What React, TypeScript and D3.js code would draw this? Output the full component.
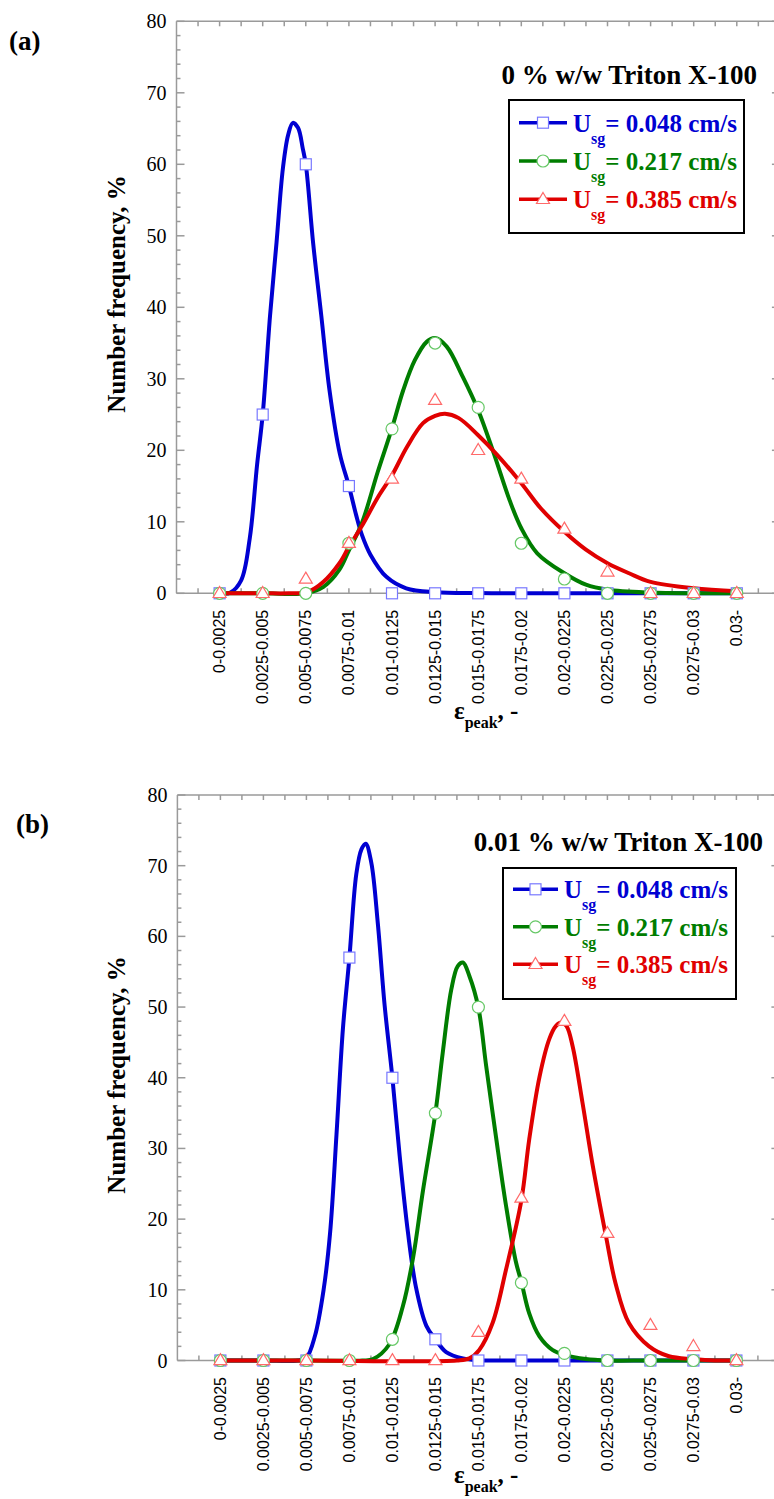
import React from "react";
import * as d3 from "d3";

// size classes of the peak strain, one per category on the x axis
const catLabels = [
  "0-0.0025", "0.0025-0.005", "0.005-0.0075", "0.0075-0.01", "0.01-0.0125",
  "0.0125-0.015", "0.015-0.0175", "0.0175-0.02", "0.02-0.0225", "0.0225-0.025",
  "0.025-0.0275", "0.0275-0.03", "0.03-",
];
const yTicks = [0, 10, 20, 30, 40, 50, 60, 70, 80];

// measured points, panel (a) 0 % Triton
const a048 = [0, 25, 60, 15, 0, 0, 0, 0, 0, 0, 0, 0, 0];
const a217 = [0, 0, 0, 7, 23, 35, 26, 7, 2, 0, 0, 0, 0];
const a385 = [0, 0, 2, 7, 16, 27, 20, 16, 9, 3, 0, 0, 0];

// measured points, panel (b) 0.01 % Triton
const b048 = [0, 0, 0, 57, 40, 3, 0, 0, 0, 0, 0, 0, 0];
const b217 = [0, 0, 0, 0, 3, 35, 50, 11, 1, 0, 0, 0, 0];
const b385 = [0, 0, 0, 0, 0, 0, 4, 23, 48, 18, 5, 2, 0];

// fitted curves: [category index, frequency]
const aFit048 = [[0, 0], [0.25, 0.1], [0.5, 1.8], [0.7, 7.7], [0.87, 18], [1, 25], [1.17, 38.8], [1.32, 49], [1.47, 59.5], [1.59, 64.1], [1.7, 65.8], [1.82, 65.1], [1.93, 62.2], [2, 60], [2.17, 49], [2.36, 38.8], [2.55, 28.4], [2.79, 19.5], [3, 15], [3.17, 10.9], [3.3, 8.2], [3.5, 5.4], [3.87, 2.3], [4.33, 0.7], [5, 0.15], [6, 0.03], [7, 0], [12, 0]];
const aFit217 = [[0, 0], [1, 0], [2, 0], [2.41, 0.9], [2.78, 3.3], [3, 6], [3.3, 9.8], [3.67, 17], [4, 23.1], [4.26, 28.4], [4.53, 32.6], [4.81, 35.2], [5, 35.7], [5.27, 34.5], [5.64, 30.3], [6, 25.6], [6.36, 19.6], [6.73, 13], [7, 9.1], [7.37, 5.6], [8, 2.8], [8.5, 1.2], [9, 0.5], [10, 0.1], [11, 0], [12, 0]];
const aFit385 = [[0, 0], [1, 0], [1.6, 0], [2.05, 0.2], [2.41, 1.6], [2.78, 4.2], [3, 6.5], [3.3, 9.4], [3.67, 13.4], [4, 16.5], [4.35, 20.5], [4.72, 23.8], [5, 24.8], [5.23, 25.1], [5.55, 24.5], [6, 22.1], [6.45, 19.3], [7, 15.4], [7.45, 11.9], [8, 8.6], [8.5, 6.1], [9, 4.2], [9.5, 2.8], [10, 1.6], [11, 0.7], [12, 0.3]];

const bFit048 = [[0, 0], [1, 0], [1.8, 0], [2, 0.4], [2.2, 3.5], [2.4, 10], [2.55, 18], [2.7, 32], [2.85, 47], [3, 57], [3.16, 68.8], [3.28, 72.3], [3.38, 73.1], [3.51, 70.4], [3.66, 61.9], [3.82, 50.2], [4, 40], [4.17, 28.9], [4.36, 18.2], [4.55, 10.3], [4.79, 4.9], [5, 3], [5.25, 1.2], [5.64, 0.3], [6, 0.05], [7, 0], [12, 0]];
const bFit217 = [[0, 0], [2, 0], [3.3, 0], [3.55, 0.2], [3.93, 2.3], [4.24, 7.6], [4.48, 14.5], [4.71, 24], [5, 35], [5.17, 43.5], [5.37, 52.5], [5.52, 55.8], [5.64, 56.3], [5.79, 54.4], [6, 49.9], [6.18, 41.7], [6.41, 31.6], [6.64, 22], [6.87, 14], [7, 11.1], [7.18, 6.7], [7.42, 3.4], [7.72, 1.5], [8, 0.8], [8.5, 0.2], [9, 0], [10, 0], [12, 0]];
const bFit385 = [[0, 0], [2, 0], [5.5, 0], [5.79, 0.3], [6.02, 1.5], [6.33, 5.3], [6.64, 12.8], [7, 22.7], [7.18, 31.2], [7.42, 40.1], [7.65, 45.5], [7.8, 47.3], [7.93, 47.8], [8.05, 47.3], [8.19, 44.5], [8.42, 36.5], [8.65, 27.9], [8.96, 17.8], [9.19, 10.9], [9.5, 5.3], [9.97, 2], [10.43, 0.6], [11, 0.2], [11.5, 0], [12, 0]];

const seriesNames = ["0.048", "0.217", "0.385"];
const lineColors = ["#0000d2", "#007d00", "#e00000"];
const markerColors = ["#7878ff", "#66c866", "#ff6a6a"];
const markerShapes = ["square", "circle", "triangle"];

const SERIF = "'Liberation Serif', 'Times New Roman', serif";
const SANS = "'Liberation Sans', Arial, sans-serif";
const AXIS = "#9a9a9a";

const panels = [
  {
    tag: "(a)", tagX: 9, tagY: 50,
    title: "0 % w/w Triton X-100", titleX: 757, titleY: 84,
    top: 21.3, bottom: 593.3, left: 176.5, step: 43.1,
    box: { x: 509, y: 100, w: 235, h: 133 },
    rowY: 122.7, rowGap: 38.3, lineX0: 519, lineX1: 567, textX: 573,
    yLabelY: 294, xTitleY: 719,
    points: [a048, a217, a385], fits: [aFit048, aFit217, aFit385],
  },
  {
    tag: "(b)", tagX: 16, tagY: 833,
    title: "0.01 % w/w Triton X-100", titleX: 763, titleY: 851,
    top: 795, bottom: 1360.5, left: 177.4, step: 43.0,
    box: { x: 503, y: 868, w: 233, h: 131 },
    rowY: 889.3, rowGap: 37.5, lineX0: 513, lineX1: 558, textX: 564,
    yLabelY: 1075, xTitleY: 1483,
    points: [b048, b217, b385], fits: [bFit048, bFit217, bFit385],
  },
];

function Marker({ shape, cx, cy, color }) {
  if (shape === "square")
    return <rect x={cx - 5.5} y={cy - 5.5} width={11} height={11} fill="#fff" stroke={color} strokeWidth={1.2} />;
  if (shape === "circle")
    return <circle cx={cx} cy={cy} r={6} fill="#fff" stroke={color} strokeWidth={1.2} />;
  const h = 11, w = 13;
  return (
    <path
      d={`M${cx},${cy - h * 0.62}L${cx + w / 2},${cy + h * 0.38}L${cx - w / 2},${cy + h * 0.38}Z`}
      fill="#fff" stroke={color} strokeWidth={1.2}
    />
  );
}

function Panel({ p }) {
  const x = d3.scaleLinear().domain([-1, 13]).range([p.left, p.left + 14 * p.step]);
  const y = d3.scaleLinear().domain([0, 80]).range([p.bottom, p.top]);
  const line = d3
    .line()
    .x((d) => x(d[0]))
    .y((d) => y(Math.max(0, d[1])))
    .curve(d3.curveCatmullRom.alpha(0.5));
  const halfTicks = d3.range(-0.5, 13, 0.5);
  const minorY = d3.range(0, 81, 2);
  const xr = x(13);

  return (
    <g>
      {/* frame */}
      <g stroke={AXIS} strokeWidth={1.5} fill="none">
        <line x1={x(-1)} x2={xr} y1={y(0)} y2={y(0)} />
        <line x1={x(-1)} x2={xr} y1={y(80)} y2={y(80)} />
        <line x1={x(-1)} x2={x(-1)} y1={y(0)} y2={y(80)} />
        <line x1={xr} x2={xr} y1={y(0)} y2={y(80)} />
        {halfTicks.map((t) => (
          <g key={t}>
            <line x1={x(t)} x2={x(t)} y1={y(0)} y2={y(0) - 5} />
            <line x1={x(t)} x2={x(t)} y1={y(80)} y2={y(80) + 5} />
          </g>
        ))}
        {minorY.map((t) => {
          const len = t % 10 === 0 ? 8 : 4;
          return (
            <g key={t}>
              <line x1={x(-1)} x2={x(-1) + len} y1={y(t)} y2={y(t)} />
              <line x1={xr} x2={xr - len} y1={y(t)} y2={y(t)} />
            </g>
          );
        })}
      </g>

      {/* y tick labels */}
      {yTicks.map((t) => (
        <text key={t} x={x(-1) - 10} y={y(t)} dy="0.35em" textAnchor="end" fontFamily={SERIF} fontSize={20}>
          {t}
        </text>
      ))}

      {/* x category labels */}
      {catLabels.map((c, i) => (
        <text
          key={c}
          transform={`translate(${x(i) + 5.5},${y(0) + 16.5}) rotate(-90)`}
          textAnchor="end" fontFamily={SANS} fontSize={16}
        >
          {c}
        </text>
      ))}

      {/* fitted curves */}
      {p.fits.map((f, s) => (
        <path key={s} d={line(f)} fill="none" stroke={lineColors[s]} strokeWidth={4} strokeLinejoin="round" />
      ))}

      {/* data markers */}
      {p.points.map((vals, s) =>
        vals.map((v, i) => (
          <Marker key={`${s}-${i}`} shape={markerShapes[s]} cx={x(i)} cy={y(v)} color={markerColors[s]} />
        ))
      )}

      {/* axis titles */}
      <text
        transform={`translate(125,${p.yLabelY}) rotate(-90)`}
        textAnchor="middle" fontFamily={SERIF} fontWeight="bold" fontSize={25}
      >
        Number frequency, %
      </text>
      <text x={454} y={p.xTitleY} fontFamily={SERIF} fontWeight="bold" fontSize={25}>
        ε<tspan fontSize={16} dy={9}>peak</tspan>
        <tspan dy={-9}>, -</tspan>
      </text>

      {/* panel tag and title */}
      <text x={p.tagX} y={p.tagY} fontFamily={SERIF} fontWeight="bold" fontSize={27}>
        {p.tag}
      </text>
      <text x={p.titleX} y={p.titleY} textAnchor="end" fontFamily={SERIF} fontWeight="bold" fontSize={27}>
        {p.title}
      </text>

      {/* legend */}
      <rect x={p.box.x} y={p.box.y} width={p.box.w} height={p.box.h} fill="#fff" stroke="#000" strokeWidth={2} />
      {seriesNames.map((n, s) => {
        const ry = p.rowY + s * p.rowGap;
        const mid = (p.lineX0 + p.lineX1) / 2;
        return (
          <g key={n}>
            <line x1={p.lineX0} x2={p.lineX1} y1={ry} y2={ry} stroke={lineColors[s]} strokeWidth={3.6} />
            <Marker shape={markerShapes[s]} cx={mid} cy={ry} color={markerColors[s]} />
            <text x={p.textX} y={ry + 9} fill={lineColors[s]} fontFamily={SERIF} fontWeight="bold" fontSize={25}>
              U<tspan fontSize={16} dy={12}>sg</tspan>
              <tspan dy={-12}>{`= ${n} cm/s`}</tspan>
            </text>
          </g>
        );
      })}
    </g>
  );
}

export default function App() {
  return (
    <svg
      width={774}
      height={1499}
      style={{ position: "absolute", left: 0, top: 0, background: "#fff" }}
    >
      {panels.map((p) => (
        <Panel key={p.tag} p={p} />
      ))}
    </svg>
  );
}
